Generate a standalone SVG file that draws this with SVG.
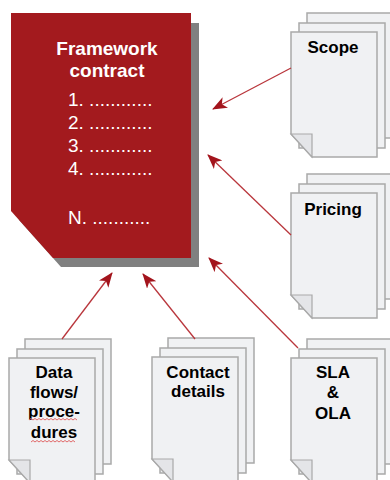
<svg xmlns="http://www.w3.org/2000/svg" xmlns:xlink="http://www.w3.org/1999/xlink" width="390" height="480" viewBox="0 0 390 480">
<style>
.page{fill:#f0f1f3;stroke:#a9a9a9;stroke-width:1.5}
.flap{fill:#e4e5e8;stroke:#a9a9a9;stroke-width:1.2}
.lbl{font-family:"Liberation Sans",Arial,sans-serif;font-weight:bold;font-size:17px;fill:#000;text-anchor:middle}
.fc{font-family:"Liberation Sans",Arial,sans-serif;font-size:19px;fill:#fff}
.fch{font-weight:bold;text-anchor:middle}
.conn{stroke:#b9363c;stroke-width:1.3;fill:none;marker-end:url(#ah)}
.wavy{stroke:#e06a6a;stroke-width:1;fill:none}
</style>
<defs>
<marker id="ah" markerUnits="userSpaceOnUse" viewBox="0 0 15 12" refX="14" refY="6" markerWidth="15" markerHeight="12" orient="auto">
<path d="M0,0 L15,6 L0,12 L4,6 Z" fill="#a3141c"/>
</marker>
<g id="stack">
<rect class="page" x="16" y="-19" width="86" height="125"/>
<rect class="page" x="8" y="-9" width="86" height="125"/>
<path class="page" d="M0,0 H86 V125 H21 L0,102 Z"/>
<path class="flap" d="M0,102 H21 V125 Z"/>
</g>
</defs>

<g id="framework">
<path d="M19,23 H199 V267 H61 L19,220 Z" fill="#808080"/>
<path d="M11,13 H191 V258 H53 L11,211 Z" fill="#a31a1e"/>
<text class="fc fch" x="107" y="55">Framework</text>
<text class="fc fch" x="107" y="77">contract</text>
<text class="fc" x="68" y="106">1. ............</text>
<text class="fc" x="68" y="129">2. ............</text>
<text class="fc" x="68" y="152">3. ............</text>
<text class="fc" x="68" y="175">4. ............</text>
<text class="fc" x="68" y="224">N. ...........</text>
</g>

<g id="scope" transform="translate(291,32)">
<use xlink:href="#stack"/>
<text class="lbl" x="42" y="21">Scope</text>
</g>

<g id="pricing" transform="translate(291,193)">
<use xlink:href="#stack"/>
<text class="lbl" x="42" y="22">Pricing</text>
</g>

<g id="dataflows" transform="translate(9,358)">
<use xlink:href="#stack"/>
<text class="lbl" x="45" y="20">Data</text>
<text class="lbl" x="45" y="40">flows/</text>
<text class="lbl" x="45" y="59">proce-</text>
<text class="lbl" x="45" y="80">dures</text>
<path class="wavy" d="M20,62 l2,-1.5 l2,1.5 l2,-1.5 l2,1.5 l2,-1.5 l2,1.5 l2,-1.5 l2,1.5 l2,-1.5 l2,1.5 l2,-1.5 l2,1.5 l2,-1.5 l2,1.5 l2,-1.5 l2,1.5 l2,-1.5 l2,1.5 l2,-1.5 l2,1.5 l2,-1.5 l2,1.5 l2,-1.5 l2,1.5"/>
<path class="wavy" d="M22,84 l2,-1.5 l2,1.5 l2,-1.5 l2,1.5 l2,-1.5 l2,1.5 l2,-1.5 l2,1.5 l2,-1.5 l2,1.5 l2,-1.5 l2,1.5 l2,-1.5 l2,1.5 l2,-1.5 l2,1.5 l2,-1.5 l2,1.5 l2,-1.5 l2,1.5 l2,-1.5 l2,1.5"/>
</g>

<g id="contact" transform="translate(152,357)">
<use xlink:href="#stack"/>
<text class="lbl" x="46" y="21">Contact</text>
<text class="lbl" x="46" y="40">details</text>
</g>

<g id="sla" transform="translate(291,358)">
<use xlink:href="#stack"/>
<text class="lbl" x="42" y="20">SLA</text>
<text class="lbl" x="42" y="40">&amp;</text>
<text class="lbl" x="42" y="61">OLA</text>
</g>

<g id="connectors">
<line class="conn" x1="291" y1="68" x2="213" y2="109"/>
<line class="conn" x1="291" y1="235" x2="208" y2="155"/>
<line class="conn" x1="298" y1="348" x2="209" y2="258"/>
<line class="conn" x1="62" y1="339" x2="112" y2="273"/>
<line class="conn" x1="195" y1="339" x2="143" y2="274"/>
</g>
</svg>
